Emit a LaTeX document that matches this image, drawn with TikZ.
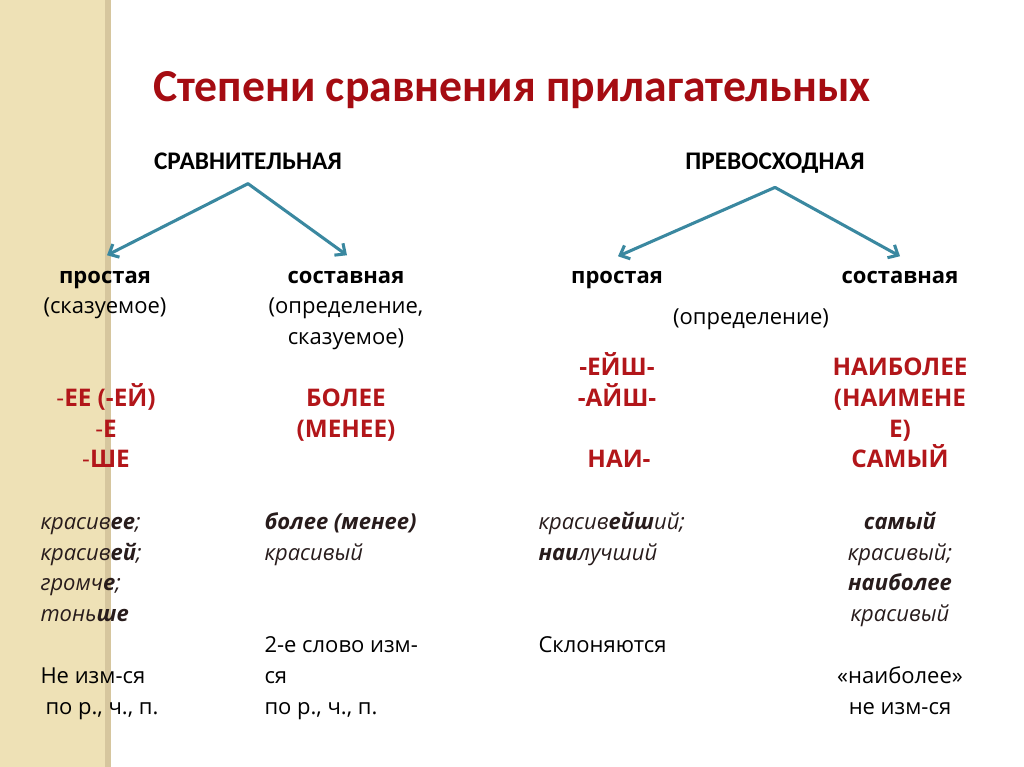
\documentclass[tikz,border=0pt]{standalone}
\usepackage{fontspec}
\setmainfont{Open Sans}
\newfontfamily\calfont{Carlito}
\usetikzlibrary{positioning, calc, arrows.meta}
\definecolor{titlered}{RGB}{165,12,18}
\definecolor{sufred}{RGB}{178,22,26}
\definecolor{arrowteal}{RGB}{58,136,160}
\definecolor{stripbeige}{RGB}{238,225,182}
\definecolor{stripedge}{RGB}{214,198,158}
\definecolor{exbrown}{RGB}{40,28,28}
\tikzset{every picture/.style={line width=0.75pt}}

\begin{document}
\begin{tikzpicture}[x=0.75pt,y=0.75pt,yscale=-1,xscale=1,
  txt/.style={inner sep=0pt, anchor=base, font=\fontsize{16.5}{20}\selectfont},
  txtl/.style={txt, anchor=base west},
  bld/.style={txt, font=\fontsize{16.5}{20}\selectfont\bfseries},
  suf/.style={txt, text=sufred, font=\fontsize{18.2}{22}\selectfont\bfseries},
  ex/.style={txtl, text=exbrown, font=\fontsize{16.5}{20}\selectfont\itshape},
  exc/.style={ex, anchor=base},
  head/.style={inner sep=0pt, anchor=base, font=\calfont\fontsize{19}{23}\selectfont\bfseries},
  titl/.style={inner sep=0pt, anchor=base, text=titlered, font=\calfont\fontsize{34.3}{40}\selectfont\bfseries},
  branch/.style={draw=arrowteal, line width=2.3pt, line cap=round, -{Straight Barb[length=6pt,width=11pt]}}
]
\useasboundingbox (0,0) rectangle (1024,767);

%Beige strip on the left
\fill[stripbeige] (0,0) rectangle (110,767);
\fill[stripedge] (105,0) rectangle (111,767);

% Title
\node[titl] (ttl) at (512,101) {Степени сравнения прилагательных};

% Two degrees
\node[head] (cmp) at (248,169) {СРАВНИТЕЛЬНАЯ};
\node[head] (supl) at (775,169) {ПРЕВОСХОДНАЯ};

% Column heads
\node[bld] (cmpA) at (105,283) {простая};
\node[bld] (cmpB) at (346,283) {составная};
\node[bld] (suplA) at (617,283) {простая};
\node[bld] (suplB) at (900,283) {составная};

% Branches
\coordinate (cmpfork) at ($(cmp.south)+(0,14)$);
\coordinate (suplfork) at ($(supl.south)+(0,14)$);
\draw[branch] (cmpfork) -- ($(cmpA.north)+(2,-15)$);
\draw[branch] (cmpfork) -- ($(cmpB.north)+(1,-15)$);
\draw[branch] (suplfork) -- ($(suplA.north)+(1,-14)$);
\draw[branch] (suplfork) -- ($(suplB.north)+(0,-14)$);

% Syntactic role
\node[txt] (cmpArole) at (105,313.6) {(сказуемое)};
\node[txt] (cmpBrole) at (346,313.6) {(определение,};
\node[txt] (cmpBrole2) at (346,344.4) {сказуемое)};
\node[txt] (suplrole) at (751,324) {(определение)};

% Suffixes and words
\node[suf] (cmpAsuf1) at (106,406) {{\mdseries-}ЕЕ (-ЕЙ)};
\node[suf] (cmpAsuf2) at (106,437) {{\mdseries-}Е};
\node[suf] (cmpAsuf3) at (106,467.6) {{\mdseries-}ШЕ};
\node[suf] (cmpBsuf1) at (346,406) {БОЛЕЕ};
\node[suf] (cmpBsuf2) at (346,437) {(МЕНЕЕ)};
\node[suf] (suplAsuf1) at (617,375) {-ЕЙШ-};
\node[suf] (suplAsuf2) at (617,406) {-АЙШ-};
\node[suf] (suplAsuf3) at (619,467.6) {НАИ-};
\node[suf] (suplBsuf1) at (900,375) {НАИБОЛЕЕ};
\node[suf] (suplBsuf2) at (900,406) {(НАИМЕНЕ};
\node[suf] (suplBsuf3) at (900,437) {Е)};
\node[suf] (suplBsuf4) at (900,467.6) {САМЫЙ};

% Examples
\node[ex] (cmpAex1) at (40,529) {красив\textbf{ее};};
\node[ex] (cmpAex2) at (40,560) {красив\textbf{ей};};
\node[ex] (cmpAex3) at (40,590.6) {громч\textbf{е};};
\node[ex] (cmpAex4) at (40,621) {тонь\textbf{ше}};
\node[ex] (cmpBex1) at (264,529) {\textbf{более (менее)}};
\node[ex] (cmpBex2) at (264,560) {красивый};
\node[ex] (suplAex1) at (538,529) {красив\textbf{ейш}ий;};
\node[ex] (suplAex2) at (538,560) {\textbf{наи}лучший};
\node[exc] (suplBex1) at (900,529) {\textbf{самый}};
\node[exc] (suplBex2) at (900,560) {красивый;};
\node[exc] (suplBex3) at (900,590.6) {\textbf{наиболее}};
\node[exc] (suplBex4) at (900,621) {красивый};

% Notes
\node[txtl] (cmpAnote1) at (40,683) {Не изм-ся};
\node[txtl] (cmpAnote2) at (45,714) {по р., ч., п.};
\node[txtl] (cmpBnote1) at (264,652) {2-е слово изм-};
\node[txtl] (cmpBnote2) at (264,683) {ся};
\node[txtl] (cmpBnote3) at (264,714) {по р., ч., п.};
\node[txtl] (suplAnote) at (538,652) {Склоняются};
\node[txt] (suplBnote1) at (900,683) {«наиболее»};
\node[txt] (suplBnote2) at (900,714) {не изм-ся};

\end{tikzpicture}
\end{document}
